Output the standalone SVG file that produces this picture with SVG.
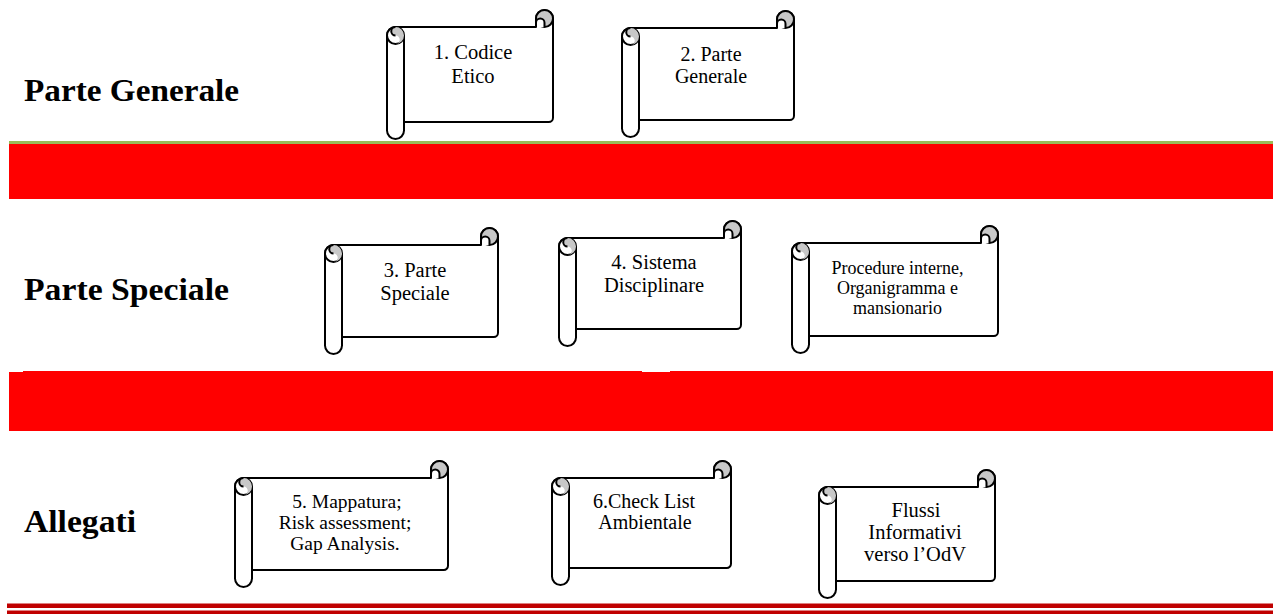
<svg xmlns="http://www.w3.org/2000/svg" width="1273" height="614" viewBox="0 0 1273 614">
<style>
.bg{fill:#ffffff}
.sheet{fill:#ffffff;stroke:#000000;stroke-width:2;stroke-linejoin:round}
.ln{fill:none;stroke:#000000;stroke-width:2}
.gray{fill:#c8c8c8;stroke:none}
.curl{fill:#c8c8c8;stroke:#000000;stroke-width:2}
.notch{fill:#ffffff;stroke:#000000;stroke-width:2}
.rollc{fill:#ffffff;stroke:#000000;stroke-width:2}
.t{font-family:"Liberation Serif","Times New Roman",serif;fill:#000000;text-anchor:middle}
.lbl{font-family:"Liberation Serif","Times New Roman",serif;font-weight:bold;font-size:32px;fill:#000000}
.red{fill:#ff0000}
.green{fill:#9bbb59}
.dark{fill:#c00000}
</style>
<rect class="bg" x="0" y="0" width="1273" height="614"/>

<g id="bands">
<rect class="green" x="9" y="141" width="1264" height="3"/>
<rect class="red" x="9" y="144" width="1264" height="55"/>
<path class="red" d="M9,372 H23 V371 H642 V372 H670 V371 H1273 V431 H9 Z"/>
<rect class="dark" x="7" y="603.5" width="1266" height="4.5"/>
<rect class="dark" x="7" y="610.5" width="1266" height="3.5"/>
</g>

<g id="labels">
<text class="lbl" x="24" y="101" textLength="215" lengthAdjust="spacingAndGlyphs">Parte Generale</text>
<text class="lbl" x="24" y="300" textLength="205" lengthAdjust="spacingAndGlyphs">Parte Speciale</text>
<text class="lbl" x="24" y="532" textLength="112" lengthAdjust="spacingAndGlyphs">Allegati</text>
</g>

<g id="connectors"></g>

<g id="node-codice-etico">
<g transform="translate(387,10)">
<path class="sheet" d="M0,25.5 A8.5,8.5 0 0 1 8.5,17 H149 V8.5 A8.5,8.5 0 0 1 166,8.5 V107.75 A4.25,4.25 0 0 1 161.75,112 H17 V120.5 A8.5,8.5 0 0 1 0,120.5 Z"/>
<path class="ln" d="M17,25.5 V112"/>
<circle class="rollc" cx="8.5" cy="25.5" r="8.5"/>
<path class="gray" d="M8.5,17 A8.5,8.5 0 0 1 8.5,34 A4.25,4.25 0 0 0 8.5,25.5 A4.25,4.25 0 0 1 8.5,17 Z"/>
<path class="ln" d="M8.5,25.5 A4.25,4.25 0 0 1 8.5,17"/>
<circle class="curl" cx="157.5" cy="8.5" r="8.5"/>
<path class="notch" d="M149,17 V12.75 A4.25,4.25 0 0 1 157.5,12.75 V17"/>
</g>
<text class="t" font-size="20.5" x="473" y="59">1. Codice</text>
<text class="t" font-size="20.5" x="473" y="83">Etico</text>
</g>

<g id="node-parte-generale">
<g transform="translate(622,11)">
<path class="sheet" d="M0,25.5 A8.5,8.5 0 0 1 8.5,17 H155 V8.5 A8.5,8.5 0 0 1 172,8.5 V104.75 A4.25,4.25 0 0 1 167.75,109 H17 V117.5 A8.5,8.5 0 0 1 0,117.5 Z"/>
<path class="ln" d="M17,25.5 V109"/>
<circle class="rollc" cx="8.5" cy="25.5" r="8.5"/>
<path class="gray" d="M8.5,17 A8.5,8.5 0 0 1 8.5,34 A4.25,4.25 0 0 0 8.5,25.5 A4.25,4.25 0 0 1 8.5,17 Z"/>
<path class="ln" d="M8.5,25.5 A4.25,4.25 0 0 1 8.5,17"/>
<circle class="curl" cx="163.5" cy="8.5" r="8.5"/>
<path class="notch" d="M155,17 V12.75 A4.25,4.25 0 0 1 163.5,12.75 V17"/>
</g>
<text class="t" font-size="20" x="711" y="61">2. Parte</text>
<text class="t" font-size="20" x="711" y="83">Generale</text>
</g>

<g id="node-parte-speciale">
<g transform="translate(325,228)">
<path class="sheet" d="M0,25.5 A8.5,8.5 0 0 1 8.5,17 H156 V8.5 A8.5,8.5 0 0 1 173,8.5 V104.75 A4.25,4.25 0 0 1 168.75,109 H17 V117.5 A8.5,8.5 0 0 1 0,117.5 Z"/>
<path class="ln" d="M17,25.5 V109"/>
<circle class="rollc" cx="8.5" cy="25.5" r="8.5"/>
<path class="gray" d="M8.5,17 A8.5,8.5 0 0 1 8.5,34 A4.25,4.25 0 0 0 8.5,25.5 A4.25,4.25 0 0 1 8.5,17 Z"/>
<path class="ln" d="M8.5,25.5 A4.25,4.25 0 0 1 8.5,17"/>
<circle class="curl" cx="164.5" cy="8.5" r="8.5"/>
<path class="notch" d="M156,17 V12.75 A4.25,4.25 0 0 1 164.5,12.75 V17"/>
</g>
<text class="t" font-size="20.5" x="415" y="277">3. Parte</text>
<text class="t" font-size="20.5" x="415" y="300">Speciale</text>
</g>

<g id="node-sistema-disciplinare">
<g transform="translate(559,221)">
<path class="sheet" d="M0,25.5 A8.5,8.5 0 0 1 8.5,17 H165 V8.5 A8.5,8.5 0 0 1 182,8.5 V103.75 A4.25,4.25 0 0 1 177.75,108 H17 V116.5 A8.5,8.5 0 0 1 0,116.5 Z"/>
<path class="ln" d="M17,25.5 V108"/>
<circle class="rollc" cx="8.5" cy="25.5" r="8.5"/>
<path class="gray" d="M8.5,17 A8.5,8.5 0 0 1 8.5,34 A4.25,4.25 0 0 0 8.5,25.5 A4.25,4.25 0 0 1 8.5,17 Z"/>
<path class="ln" d="M8.5,25.5 A4.25,4.25 0 0 1 8.5,17"/>
<circle class="curl" cx="173.5" cy="8.5" r="8.5"/>
<path class="notch" d="M165,17 V12.75 A4.25,4.25 0 0 1 173.5,12.75 V17"/>
</g>
<text class="t" font-size="20.5" x="654" y="269">4. Sistema</text>
<text class="t" font-size="20.5" x="654" y="292">Disciplinare</text>
</g>

<g id="node-procedure">
<g transform="translate(792,226)">
<path class="sheet" d="M0,25.5 A8.5,8.5 0 0 1 8.5,17 H189 V8.5 A8.5,8.5 0 0 1 206,8.5 V105.75 A4.25,4.25 0 0 1 201.75,110 H17 V118.5 A8.5,8.5 0 0 1 0,118.5 Z"/>
<path class="ln" d="M17,25.5 V110"/>
<circle class="rollc" cx="8.5" cy="25.5" r="8.5"/>
<path class="gray" d="M8.5,17 A8.5,8.5 0 0 1 8.5,34 A4.25,4.25 0 0 0 8.5,25.5 A4.25,4.25 0 0 1 8.5,17 Z"/>
<path class="ln" d="M8.5,25.5 A4.25,4.25 0 0 1 8.5,17"/>
<circle class="curl" cx="197.5" cy="8.5" r="8.5"/>
<path class="notch" d="M189,17 V12.75 A4.25,4.25 0 0 1 197.5,12.75 V17"/>
</g>
<text class="t" font-size="18" x="897.5" y="274">Procedure interne,</text>
<text class="t" font-size="18" x="897.5" y="294">Organigramma e</text>
<text class="t" font-size="18" x="897.5" y="314">mansionario</text>
</g>

<g id="node-mappatura">
<g transform="translate(235,461)">
<path class="sheet" d="M0,25.5 A8.5,8.5 0 0 1 8.5,17 H196 V8.5 A8.5,8.5 0 0 1 213,8.5 V104.75 A4.25,4.25 0 0 1 208.75,109 H17 V117.5 A8.5,8.5 0 0 1 0,117.5 Z"/>
<path class="ln" d="M17,25.5 V109"/>
<circle class="rollc" cx="8.5" cy="25.5" r="8.5"/>
<path class="gray" d="M8.5,17 A8.5,8.5 0 0 1 8.5,34 A4.25,4.25 0 0 0 8.5,25.5 A4.25,4.25 0 0 1 8.5,17 Z"/>
<path class="ln" d="M8.5,25.5 A4.25,4.25 0 0 1 8.5,17"/>
<circle class="curl" cx="204.5" cy="8.5" r="8.5"/>
<path class="notch" d="M196,17 V12.75 A4.25,4.25 0 0 1 204.5,12.75 V17"/>
</g>
<text class="t" font-size="19.5" x="347" y="508">5. Mappatura;</text>
<text class="t" font-size="19.5" x="345" y="529">Risk assessment;</text>
<text class="t" font-size="19.5" x="345" y="550">Gap Analysis.</text>
</g>

<g id="node-check-list">
<g transform="translate(552,461)">
<path class="sheet" d="M0,25.5 A8.5,8.5 0 0 1 8.5,17 H162 V8.5 A8.5,8.5 0 0 1 179,8.5 V102.75 A4.25,4.25 0 0 1 174.75,107 H17 V115.5 A8.5,8.5 0 0 1 0,115.5 Z"/>
<path class="ln" d="M17,25.5 V107"/>
<circle class="rollc" cx="8.5" cy="25.5" r="8.5"/>
<path class="gray" d="M8.5,17 A8.5,8.5 0 0 1 8.5,34 A4.25,4.25 0 0 0 8.5,25.5 A4.25,4.25 0 0 1 8.5,17 Z"/>
<path class="ln" d="M8.5,25.5 A4.25,4.25 0 0 1 8.5,17"/>
<circle class="curl" cx="170.5" cy="8.5" r="8.5"/>
<path class="notch" d="M162,17 V12.75 A4.25,4.25 0 0 1 170.5,12.75 V17"/>
</g>
<text class="t" font-size="20" x="644" y="508">6.Check List</text>
<text class="t" font-size="20" x="645" y="529">Ambientale</text>
</g>

<g id="node-flussi">
<g transform="translate(819,470)">
<path class="sheet" d="M0,25.5 A8.5,8.5 0 0 1 8.5,17 H159 V8.5 A8.5,8.5 0 0 1 176,8.5 V106.75 A4.25,4.25 0 0 1 171.75,111 H17 V119.5 A8.5,8.5 0 0 1 0,119.5 Z"/>
<path class="ln" d="M17,25.5 V111"/>
<circle class="rollc" cx="8.5" cy="25.5" r="8.5"/>
<path class="gray" d="M8.5,17 A8.5,8.5 0 0 1 8.5,34 A4.25,4.25 0 0 0 8.5,25.5 A4.25,4.25 0 0 1 8.5,17 Z"/>
<path class="ln" d="M8.5,25.5 A4.25,4.25 0 0 1 8.5,17"/>
<circle class="curl" cx="167.5" cy="8.5" r="8.5"/>
<path class="notch" d="M159,17 V12.75 A4.25,4.25 0 0 1 167.5,12.75 V17"/>
</g>
<text class="t" font-size="20.5" x="916" y="517">Flussi</text>
<text class="t" font-size="20.5" x="915" y="539">Informativi</text>
<text class="t" font-size="20.5" x="915" y="561">verso l’OdV</text>
</g>
</svg>
